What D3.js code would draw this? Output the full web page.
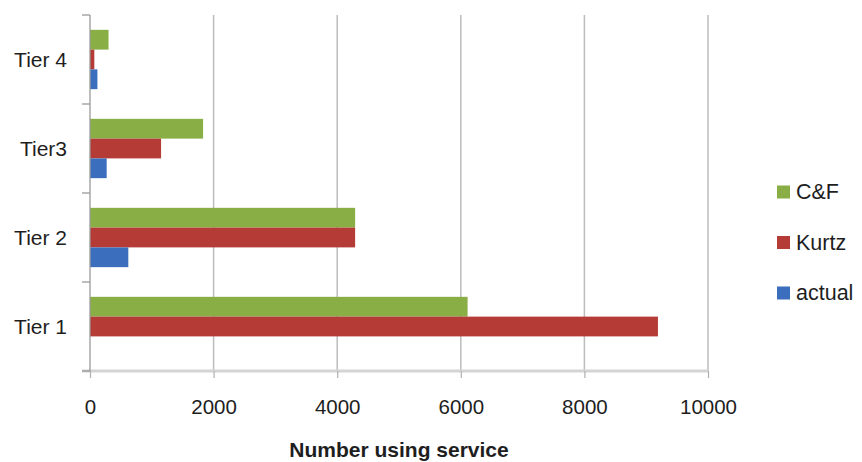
<!DOCTYPE html>
<html>
<head>
<meta charset="utf-8">
<script src="https://cdn.jsdelivr.net/npm/d3@7"></script>
<style>
  html, body { margin: 0; padding: 0; background: #ffffff; }
  svg { display: block; }
  text { font-family: "Liberation Sans", Arial, sans-serif; fill: #1e1e1e; }
</style>
</head>
<body>
<svg id="chart" width="862" height="462"></svg>
<script>
// Tiers from bottom to top, and the three estimates for each
const categories = ["Tier 1", "Tier 2", "Tier3", "Tier 4"];
const seriesNames = ["C&F", "Kurtz", "actual"];
const cfValues = [6110, 4290, 1830, 300];
const kurtzValues = [9190, 4290, 1150, 70];
const actualValues = [0, 620, 270, 120];
const xTicks = [0, 2000, 4000, 6000, 8000, 10000];
const seriesColors = ["#8aae46", "#b53b37", "#3b6fbe"];
const xTitle = "Number using service";

const seriesValues = { "C&F": cfValues, "Kurtz": kurtzValues, "actual": actualValues };

const svg = d3.select("#chart");
const plot = { left: 90, right: 708, top: 15, bottom: 371 };

const x = d3.scaleLinear().domain([0, 10000]).range([plot.left, plot.right]);
const y = d3.scaleBand()
  .domain(categories.slice().reverse())
  .range([plot.top, plot.bottom])
  .paddingInner(1 / 3)
  .paddingOuter(1 / 6);
const ySub = d3.scaleBand().domain(seriesNames).range([0, y.bandwidth()]);
const color = d3.scaleOrdinal().domain(seriesNames).range(seriesColors);

// vertical gridlines
svg.append("g")
  .selectAll("line")
  .data(xTicks.filter(t => t > 0))
  .join("line")
  .attr("x1", d => x(d)).attr("x2", d => x(d))
  .attr("y1", plot.top).attr("y2", plot.bottom)
  .attr("stroke", "#bcbcbc")
  .attr("stroke-width", 1.5);

// bars
const rows = categories.flatMap((c, i) =>
  seriesNames.map(s => ({ category: c, series: s, value: seriesValues[s][i] })));

svg.append("g")
  .selectAll("rect")
  .data(rows.filter(d => d.value > 0))
  .join("rect")
  .attr("x", x(0))
  .attr("y", d => y(d.category) + ySub(d.series))
  .attr("width", d => x(d.value) - x(0))
  .attr("height", ySub.bandwidth())
  .attr("fill", d => color(d.series));

// bottom value axis
const xAxis = svg.append("g")
  .attr("transform", `translate(0,${plot.bottom})`)
  .call(d3.axisBottom(x).tickValues(xTicks).tickSize(7).tickPadding(21).tickFormat(d3.format("d")));
xAxis.select(".domain").remove();
xAxis.insert("line", ":first-child")
  .attr("x1", plot.left - 8).attr("x2", plot.right)
  .attr("stroke", "#d4d4d4").attr("stroke-width", 3);
xAxis.selectAll(".tick line").attr("stroke", "#b0b0b0").attr("stroke-width", 1.2);
xAxis.selectAll(".tick text")
  .attr("font-size", 20.5)
  .style("font-family", "'Liberation Sans', Arial, sans-serif")
  .style("fill", "#1e1e1e");

// left category axis with ticks between tiers
const yAxis = svg.append("g")
  .attr("transform", `translate(${plot.left},0)`);
yAxis.append("line")
  .attr("y1", plot.top).attr("y2", plot.bottom)
  .attr("stroke", "#9a9a9a").attr("stroke-width", 1.3);
const separators = [plot.top].concat(
  categories.slice().reverse().map(c => y(c) + y.bandwidth() + y.step() * y.paddingInner() / 2));
yAxis.selectAll("line.sep")
  .data(separators)
  .join("line")
  .attr("class", "sep")
  .attr("x1", -8).attr("x2", 0)
  .attr("y1", d => d).attr("y2", d => d)
  .attr("stroke", "#9a9a9a").attr("stroke-width", 1.3);
yAxis.selectAll("text")
  .data(categories)
  .join("text")
  .attr("x", -23)
  .attr("y", d => y(d) + y.bandwidth() / 2)
  .attr("text-anchor", "end")
  .attr("dominant-baseline", "central")
  .attr("font-size", 21)
  .text(d => d);

// axis title
svg.append("text")
  .attr("x", (plot.left + plot.right) / 2)
  .attr("y", 449)
  .attr("text-anchor", "middle")
  .attr("dominant-baseline", "central")
  .attr("font-size", 21)
  .attr("font-weight", "bold")
  .text(xTitle);

// legend
const legend = svg.append("g").attr("transform", "translate(777,0)");
const legendY = d3.scalePoint().domain(seriesNames).range([192, 293]);
const item = legend.selectAll("g")
  .data(seriesNames)
  .join("g")
  .attr("transform", d => `translate(0,${legendY(d)})`);
item.append("rect")
  .attr("x", 0).attr("y", -6.5)
  .attr("width", 13).attr("height", 13)
  .attr("fill", d => color(d));
item.append("text")
  .attr("x", 19).attr("y", 0)
  .attr("dominant-baseline", "central")
  .attr("font-size", 21.5)
  .text(d => d);
</script>
</body>
</html>
